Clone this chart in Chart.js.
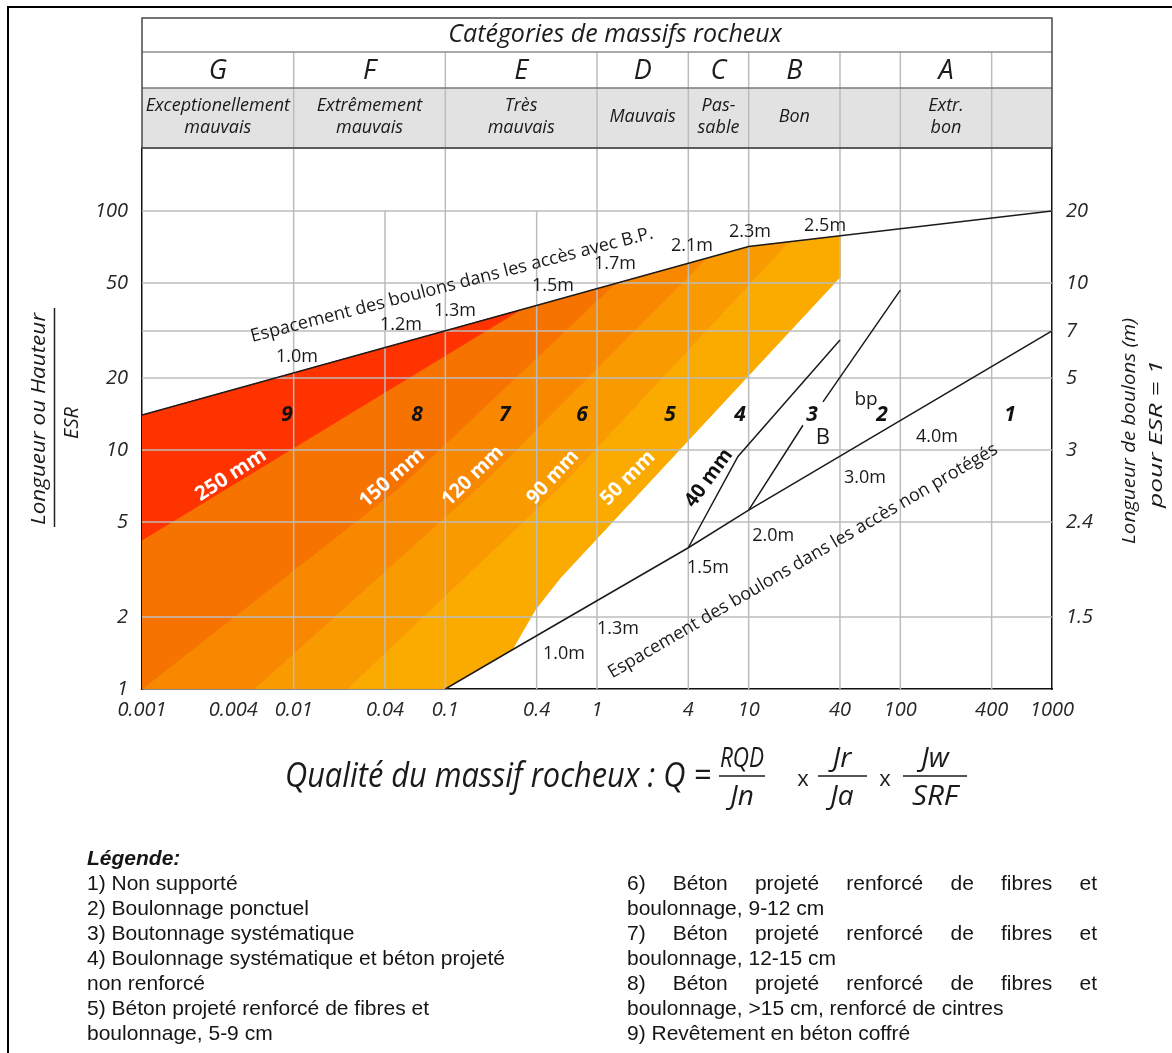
<!DOCTYPE html>
<html lang="fr">
<head>
<meta charset="utf-8">
<title>Système Q – catégories de soutènement</title>
<script src="https://cdn.jsdelivr.net/npm/chart.js@4.4.1/dist/chart.umd.min.js"></script>
<style>
  html, body { margin:0; padding:0; background:#fff; }
  body { width:1172px; height:1053px; position:relative; overflow:hidden; }
  #frame { position:absolute; left:7px; top:6px; width:1300px; height:1200px;
           border-left:2px solid #000; border-top:2px solid #000; }
  #chartBox { position:absolute; left:0; top:0; width:1172px; height:830px; }
  #legend { position:absolute; left:0; top:0; width:1172px; height:1053px;
            font-family:"Liberation Sans", Arial, sans-serif; font-size:21px; color:#151515; }
  .ln { position:absolute; white-space:nowrap; line-height:25px; height:25px; }
  .just { text-align:justify; text-align-last:justify; white-space:normal; }
  .head { font-weight:bold; font-style:italic; }
</style>
</head>
<body>
<div id="frame"></div>
<div id="chartBox"><canvas id="qchart" width="1172" height="830"></canvas></div>
<div id="legend"></div>
<script>
// ---------------- values ----------------
// Horizontal axis: rock mass quality Q
const qTicks      = [0.001, 0.004, 0.01, 0.04, 0.1, 0.4, 1, 4, 10, 40, 100, 400, 1000];
const qTickLabels = ['0.001', '0.004', '0.01', '0.04', '0.1', '0.4', '1', '4', '10', '40', '100', '400', '1000'];
// Left axis: span or height / ESR
const spanTicks   = [1, 2, 5, 10, 20, 50, 100];
const SPAN_MAX    = 183.6;
// Right axis: bolt length (m) for ESR = 1, read against span / ESR
const boltAt      = [2, 5, 10, 20, 31.5, 50, 100];
const boltLabels  = ['1.5', '2.4', '3', '5', '7', '10', '20'];
// Grid
const gridRows      = [2, 5, 10, 20, 31.5, 50, 100];
const gridColsFull  = [0.01, 0.1, 1, 4, 10, 40, 100, 400];
const gridColsShort = [0.04, 0.4];

// Rock mass categories along Q
const categoryBounds  = [0.001, 0.01, 0.1, 1, 4, 10, 40, 100, 400, 1000];
const categoryLetters = ['G', 'F', 'E', 'D', 'C', 'B', '', 'A', ''];
const categoryNames   = [['Exceptionellement', 'mauvais'], ['Extrêmement', 'mauvais'], ['Très', 'mauvais'],
                         ['Mauvais'], ['Pas-', 'sable'], ['Bon'], [], ['Extr.', 'bon'], []];

// Bolt spacing in shotcreted zones (B.P.)
const bpQ = [0.001, 10, 1000];
const bpV = [14, 71, 100];
const bpSpacing = ['1.0m', '1.2m', '1.3m', '1.5m', '1.7m', '2.1m', '2.3m', '2.5m'];
// Bolt spacing in unshotcreted zones
const npQ = [0.1, 0.275, 4, 10, 1000];
const npV = [1, 1.456, 3.9, 5.6, 31.5];
const npSpacing = ['1.0m', '1.3m', '1.5m', '2.0m', '3.0m', '4.0m'];
// 40 mm shotcrete limit (classes 4 / 3)
const sc40Q = [4, 8.5, 40];
const sc40V = [3.9, 9.4, 28.9];
// Systematic bolting limit (classes 3 / 2), broken around its label
const sbQ = [10, 22.8, 26, 30.9, 100];
const sbV = [5.6, 12.7, null, 15.9, 46.7];

// Support class areas (Q, span/ESR)
const class9Q = [0.001, 0.001, 0.31];
const class9V = [4.2, 14, 38.5];
const class8Q = [0.001, 0.001, 0.31, 1.314, 0.0503];
const class8V = [1, 4.2, 38.5, 49.6, 7.0];
const class7Q = [0.001, 0.0503, 1.314, 5.31, 0.1718, 0.00548];
const class7V = [1, 7.0, 49.6, 63.5, 7.14, 1];
const class6Q = [0.00548, 0.1718, 5.31, 10, 18.45, 0.579, 0.02247];
const class6V = [1, 7.14, 63.5, 71, 74.3, 7.07, 1];
const class5Q = [0.02247, 0.579, 18.45, 40, 40, 0.57, 0.39, 0.275, 0.1];
const class5V = [1, 7.07, 74.3, 78.7, 52.9, 2.91, 2.14, 1.456, 1];

// Legend text
const legendLeft = ['1) Non supporté', '2) Boulonnage ponctuel', '3) Boutonnage systématique',
  '4) Boulonnage systématique et béton projeté', 'non renforcé',
  '5) Béton projeté renforcé de fibres et', 'boulonnage, 5-9 cm'];
const legendRight = [['6) Béton projeté renforcé de fibres et', true], ['boulonnage, 9-12 cm', false],
  ['7) Béton projeté renforcé de fibres et', true], ['boulonnage, 12-15 cm', false],
  ['8) Béton projeté renforcé de fibres et', true], ['boulonnage, >15 cm, renforcé de cintres', false],
  ['9) Revêtement en béton coffré', false]];

// ---------------- helpers ----------------
const FAM = '"Open Sans", "DejaVu Sans", sans-serif';
const fnt = (size, style = '') => `${style} ${size}px ${FAM}`.trim();

function pts(qs, vs, close) {
  const p = qs.map((q, i) => ({ x: q, y: vs[i] }));
  if (close) p.push({ x: qs[0], y: vs[0] });
  return p;
}

function txt(ctx, s, x, y, o) {
  ctx.save();
  ctx.font = o.font;
  ctx.fillStyle = o.color || '#1a1a1a';
  ctx.textAlign = o.align || 'center';
  ctx.textBaseline = o.baseline || 'middle';
  ctx.translate(x, y);
  if (o.rot) ctx.rotate(o.rot * Math.PI / 180);
  const w = ctx.measureText(s).width;
  if (o.width) ctx.scale(o.width / w, 1);
  else if (o.maxWidth && w > o.maxWidth) ctx.scale(o.maxWidth / w, 1);
  ctx.fillText(s, 0, 0);
  ctx.restore();
}

function hline(ctx, x1, x2, y, color, w) {
  ctx.save(); ctx.strokeStyle = color; ctx.lineWidth = w;
  ctx.beginPath(); ctx.moveTo(x1, y); ctx.lineTo(x2, y); ctx.stroke(); ctx.restore();
}
function vline(ctx, x, y1, y2, color, w) {
  ctx.save(); ctx.strokeStyle = color; ctx.lineWidth = w;
  ctx.beginPath(); ctx.moveTo(x, y1); ctx.lineTo(x, y2); ctx.stroke(); ctx.restore();
}

const GRID = '#bcbcbc';

function drawGrid(chart) {
  const { ctx, chartArea: a, scales: { x, y } } = chart;
  gridRows.forEach(v => hline(ctx, a.left, a.right, y.getPixelForValue(v), GRID, 1.5));
  gridColsFull.forEach(q => vline(ctx, x.getPixelForValue(q), a.top, a.bottom, GRID, 1.5));
  gridColsShort.forEach(q => vline(ctx, x.getPixelForValue(q), y.getPixelForValue(100), a.bottom, GRID, 1.5));
}

function drawHeader(chart) {
  const { ctx, chartArea: a, scales: { x } } = chart;
  const top = 18, r1 = 52, r2 = 88, bot = a.top;
  ctx.save();
  ctx.fillStyle = '#ffffff';
  ctx.fillRect(a.left, top, a.right - a.left, r2 - top);
  ctx.fillStyle = '#e2e2e2';
  ctx.fillRect(a.left, r2, a.right - a.left, bot - r2);
  ctx.restore();
  const xs = categoryBounds.map(q => x.getPixelForValue(q));
  for (let i = 1; i < xs.length - 1; i++) vline(ctx, xs[i], r1, bot, GRID, 1.5);
  hline(ctx, a.left, a.right, r1, '#8c8c8c', 1.5);
  hline(ctx, a.left, a.right, r2, '#7a7a7a', 1.5);
  hline(ctx, a.left, a.right, bot, '#7a7a7a', 1.5);
  ctx.save(); ctx.strokeStyle = '#4a4a4a'; ctx.lineWidth = 1.5;
  ctx.strokeRect(a.left, top, a.right - a.left, bot - top); ctx.restore();

  txt(ctx, 'Catégories de massifs rocheux', 615, 35, { font: fnt(25, 'italic'), color: '#1c1c1c' });
  for (let i = 0; i < xs.length - 1; i++) {
    const cx = (xs[i] + xs[i + 1]) / 2;
    if (categoryLetters[i]) txt(ctx, categoryLetters[i], cx, 71, { font: fnt(27, 'italic'), color: '#1c1c1c' });
    const nm = categoryNames[i];
    const cw = xs[i + 1] - xs[i] - 4;
    if (nm.length === 1) txt(ctx, nm[0], cx, 117, { font: fnt(18, 'italic'), maxWidth: cw });
    if (nm.length === 2) {
      txt(ctx, nm[0], cx, 106, { font: fnt(18, 'italic'), maxWidth: cw });
      txt(ctx, nm[1], cx, 128, { font: fnt(18, 'italic'), maxWidth: cw });
    }
  }
}

function drawNotes(chart) {
  const ctx = chart.ctx;
  const at = (q, v) => [chart.scales.x.getPixelForValue(q), chart.scales.y.getPixelForValue(v)];
  const put = (s, q, v, o) => { const [px, py] = at(q, v); txt(ctx, s, px, py, o); };

  // spacing marks on the shotcreted-zone line
  const bpAt = [[0.01052, 24.5], [0.051, 33.3], [0.1158, 38.2], [0.5127, 48.6],
                [1.314, 60.0], [4.23, 71.4], [10.2, 81.7], [31.9, 86.5]];
  bpAt.forEach(([q, v], i) => put(bpSpacing[i], q, v, { font: fnt(18) }));
  put('Espacement des boulons dans les accès avec B.P.', 0.1106, 49.0,
      { font: fnt(18), rot: -14.5, width: 415 });

  // spacing marks on the unshotcreted-zone line
  const npAt = [[0.606, 1.40], [1.375, 1.78], [5.39, 3.21], [14.5, 4.37], [58.5, 7.64], [174.4, 11.3]];
  npAt.forEach(([q, v], i) => put(npSpacing[i], q, v, { font: fnt(18) }));
  put('Espacement des boulons dans les accès non protégés', 22.8, 3.43,
      { font: fnt(18), rot: -30.3, width: 448 });

  // shotcrete thickness labels
  const white = '#ffffff';
  put('250 mm', 0.00386, 7.86, { font: fnt(20, 'bold'), color: white, rot: -33, width: 80 });
  put('150 mm', 0.0445, 7.63, { font: fnt(20, 'bold'), color: white, rot: -41, width: 79 });
  put('120 mm', 0.152, 7.78, { font: fnt(20, 'bold'), color: white, rot: -44, width: 77 });
  put('90 mm', 0.513, 7.7, { font: fnt(20, 'bold'), color: white, rot: -47, width: 66 });
  put('50 mm', 1.6, 7.63, { font: fnt(20, 'bold'), color: white, rot: -45, width: 68 });
  put('40 mm', 5.47, 7.63, { font: fnt(20, 'bold'), color: '#111', rot: -54, width: 67 });

  // support class numbers
  const classAt = [['9', 0.00904], ['8', 0.065], ['7', 0.247], ['6', 0.796], ['5', 3.03],
                   ['4', 8.77], ['3', 26.2], ['2', 75.7], ['1', 528]];
  classAt.forEach(([s, q]) => put(s, q, 14.0, { font: fnt(21, 'italic bold'), color: '#111' }));
  put('bp', 59.4, 16.3, { font: fnt(19), color: '#1a1a1a' });
  put('B', 30.9, 11.3, { font: fnt(22), color: '#1a1a1a' });
}

function drawTitles(chart) {
  const ctx = chart.ctx;
  txt(ctx, 'Longueur ou Hauteur', 39, 419, { font: fnt(20, 'italic'), rot: -90, width: 212 });
  vline(ctx, 54.5, 308, 527, '#222', 1.5);
  txt(ctx, 'ESR', 72, 423, { font: fnt(20, 'italic'), rot: -90 });
  txt(ctx, 'Longueur de boulons (m)', 1130, 431, { font: fnt(19, 'italic'), rot: -90, width: 226 });
  txt(ctx, 'pour ESR = 1', 1157, 434, { font: fnt(19, 'italic'), rot: -90, width: 148 });
}

function drawFormula(chart) {
  const ctx = chart.ctx;
  const it = s => fnt(s, 'italic');
  txt(ctx, 'Qualité du massif rocheux : Q =', 285, 777, { font: it(35), align: 'left', width: 426 });
  txt(ctx, 'RQD', 742, 759, { font: it(28), width: 44 });
  hline(ctx, 719, 765, 776, '#1a1a1a', 1.5);
  txt(ctx, 'Jn', 742, 797, { font: it(28) });
  txt(ctx, 'x', 803, 780, { font: fnt(22) });
  txt(ctx, 'Jr', 842, 759, { font: it(28) });
  hline(ctx, 818, 867, 776, '#1a1a1a', 1.5);
  txt(ctx, 'Ja', 842, 797, { font: it(28) });
  txt(ctx, 'x', 885, 780, { font: fnt(22) });
  txt(ctx, 'Jw', 935, 759, { font: it(28) });
  hline(ctx, 903, 967, 776, '#1a1a1a', 1.5);
  txt(ctx, 'SRF', 935, 797, { font: it(28), width: 46 });
}

const decor = {
  id: 'qDecor',
  beforeDatasetsDraw(chart) { chart.$gridDone = false; },
  beforeDatasetDraw(chart, args) {
    if (!chart.$gridDone && chart.data.datasets[args.index].kind === 'line') {
      drawGrid(chart); chart.$gridDone = true;
    }
  },
  afterDatasetsDraw(chart) {
    if (!chart.$gridDone) { drawGrid(chart); chart.$gridDone = true; }
    drawNotes(chart);
  },
  afterDraw(chart) { drawHeader(chart); drawTitles(chart); drawFormula(chart); }
};

// ---------------- datasets ----------------
const area = (label, qs, vs, color) => ({
  label, kind: 'fill', type: 'line', data: pts(qs, vs, true), yAxisID: 'y',
  backgroundColor: color, borderColor: color, borderWidth: 1, pointRadius: 0,
  fill: 'shape', order: 10, tension: 0
});
const rule = (label, qs, vs) => ({
  label, kind: 'line', type: 'line', data: pts(qs, vs, false), yAxisID: 'y',
  borderColor: '#1b1b1b', borderWidth: 1.5, pointRadius: 0, fill: false,
  order: 0, spanGaps: false, tension: 0
});

const tickFont = { family: FAM, size: 20, style: 'italic' };

new Chart(document.getElementById('qchart'), {
  type: 'line',
  data: {
    datasets: [
      rule('Espacement B.P.', bpQ, bpV),
      rule('Espacement accès non protégés', npQ, npV),
      rule('40 mm', sc40Q, sc40V),
      rule('Boulonnage systématique', sbQ, sbV),
      area('Classe 9', class9Q, class9V, '#fe3300'),
      area('Classe 8', class8Q, class8V, '#f67300'),
      area('Classe 7', class7Q, class7V, '#f88800'),
      area('Classe 6', class6Q, class6V, '#f99a00'),
      area('Classe 5', class5Q, class5V, '#fbab00')
    ]
  },
  options: {
    responsive: false,
    animation: false,
    devicePixelRatio: 1,
    layout: { padding: { top: 148, left: 0, right: 0, bottom: 0 } },
    plugins: { legend: { display: false }, tooltip: { enabled: false } },
    scales: {
      x: {
        type: 'logarithmic', position: 'bottom', min: 0.001, max: 1000, z: 1,
        afterFit(s) { s.height = 830 - 689; },
        afterBuildTicks(s) { s.ticks = qTicks.map(v => ({ value: v })); },
        ticks: { callback: (v, i) => qTickLabels[i], font: tickFont, color: '#262626',
                 padding: 9, autoSkip: false, maxRotation: 0, minRotation: 0 },
        grid: { display: false, drawTicks: false },
        border: { display: true, color: '#111', width: 1.5 }
      },
      y: {
        type: 'logarithmic', position: 'left', min: 1, max: SPAN_MAX, z: 1,
        afterFit(s) { s.width = 142; },
        afterBuildTicks(s) { s.ticks = spanTicks.map(v => ({ value: v })); },
        ticks: { callback: (v, i) => String(spanTicks[i]), font: tickFont, color: '#262626',
                 padding: 14, autoSkip: false },
        grid: { display: false, drawTicks: false },
        border: { display: true, color: '#111', width: 1.5 }
      },
      y2: {
        type: 'logarithmic', position: 'right', min: 1, max: SPAN_MAX, z: 1,
        afterFit(s) { s.width = 120; },
        afterBuildTicks(s) { s.ticks = boltAt.map(v => ({ value: v })); },
        ticks: { callback: (v, i) => boltLabels[i], font: tickFont, color: '#262626',
                 padding: 14, autoSkip: false },
        grid: { display: false, drawTicks: false },
        border: { display: true, color: '#111', width: 1.5 }
      }
    }
  },
  plugins: [decor]
});

// ---------------- legend ----------------
(function buildLegend() {
  const box = document.getElementById('legend');
  const add = (text, left, top, cls, width) => {
    const d = document.createElement('div');
    d.className = 'ln' + (cls ? ' ' + cls : '');
    d.style.left = left + 'px'; d.style.top = top + 'px';
    if (width) d.style.width = width + 'px';
    d.textContent = text;
    box.appendChild(d);
  };
  add('Légende:', 87, 845, 'head');
  legendLeft.forEach((t, i) => add(t, 87, 870 + i * 25));
  legendRight.forEach(([t, j], i) => add(t, 627, 870 + i * 25, j ? 'just' : '', j ? 470 : 0));
})();
</script>
</body>
</html>
